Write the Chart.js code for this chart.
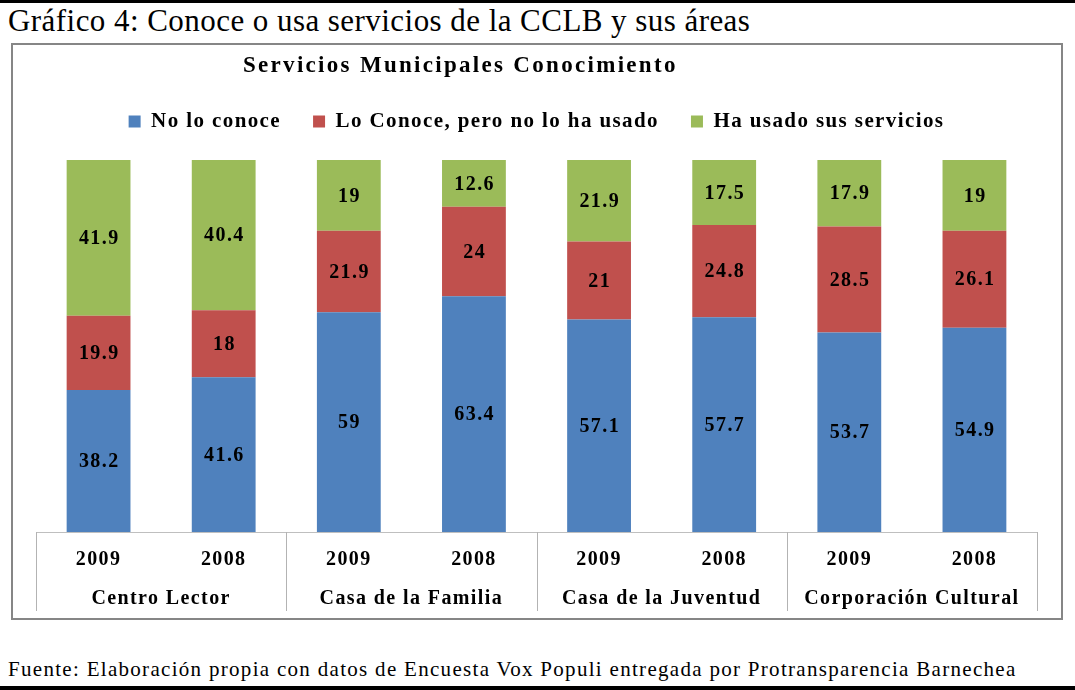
<!DOCTYPE html>
<html>
<head>
<meta charset="utf-8">
<script src="https://cdn.jsdelivr.net/npm/chart.js@4.4.0/dist/chart.umd.min.js"></script>
<style>
  html, body { margin: 0; padding: 0; background: #fff; }
  body { width: 1075px; height: 690px; position: relative; overflow: hidden; font-family: "Liberation Serif", "Times New Roman", serif; }
  .rule { position: absolute; left: 0; width: 1075px; background: #000; }
  #topRule { top: 0; height: 3px; }
  #bottomRule { top: 686px; height: 4px; }
  #pageTitle { position: absolute; left: 8px; top: 5px; font-size: 31px; line-height: 31px; letter-spacing: 0.45px; white-space: nowrap; color: #000; }
  #footer { position: absolute; left: 8px; top: 659px; font-size: 21px; line-height: 21px; letter-spacing: 1.3px; white-space: nowrap; color: #000; }
  #box { position: absolute; left: 11px; top: 43px; width: 1052px; height: 577px; box-sizing: border-box; border: 2px solid #868686; }
  #chartTitle { position: absolute; left: 243px; top: 54px; font-size: 23px; line-height: 22px; font-weight: bold; letter-spacing: 2.3px; white-space: nowrap; color: #000; }
  #c { position: absolute; left: 13px; top: 45px; }
</style>
</head>
<body>
<div class="rule" id="topRule"></div>
<div id="pageTitle">Gráfico 4: Conoce o usa servicios de la CCLB y sus áreas</div>
<div id="box"></div>
<canvas id="c" width="1048" height="573"></canvas>
<div id="chartTitle">Servicios Municipales Conocimiento</div>
<div id="footer">Fuente: Elaboración propia con datos de Encuesta Vox Populi entregada por Protransparencia Barnechea</div>
<div class="rule" id="bottomRule"></div>

<script>
// ---- Data ----
const years = ["2009", "2008", "2009", "2008", "2009", "2008", "2009", "2008"];
const groups = ["Centro Lector", "Casa de la Familia", "Casa de la Juventud", "Corporación Cultural"];
const seriesNames = ["No lo conoce", "Lo Conoce, pero no lo ha usado", "Ha usado sus servicios"];
const noLoConoce = [38.2, 41.6, 59, 63.4, 57.1, 57.7, 53.7, 54.9];
const loConoceNoUsado = [19.9, 18, 21.9, 24, 21, 24.8, 28.5, 26.1];
const haUsado = [41.9, 40.4, 19, 12.6, 21.9, 17.5, 17.9, 19];
const seriesColors = ["#4F81BD", "#C0504D", "#9BBB59"];

// 100% stacked: share of each bar's total
const rawSeries = [noLoConoce, loConoceNoUsado, haUsado];
const totals = years.map((_, i) => rawSeries.reduce((s, arr) => s + arr[i], 0));
const datasets = rawSeries.map((arr, k) => ({
  label: seriesNames[k],
  data: arr.map((v, i) => v / totals[i] * 100),
  raw: arr,
  backgroundColor: seriesColors[k],
  borderWidth: 0,
  barPercentage: 0.51,
  categoryPercentage: 1.0
}));

const FONT = "Liberation Serif";
const SPACING = "1.4px";

const spacingPlugin = {
  id: 'spacing',
  beforeUpdate(chart) { chart.ctx.letterSpacing = SPACING; },
  beforeLayout(chart) {
    chart.ctx.letterSpacing = SPACING;
    const lg = chart.legend;
    if (lg && !lg._patched) {
      const f = lg.fit;
      lg.fit = function () { f.call(this); this.height = 81; };
      lg._patched = true;
    }
  },
  beforeDraw(chart) { chart.ctx.letterSpacing = SPACING; }
};

const valueLabels = {
  id: 'valueLabels',
  afterDatasetsDraw(chart) {
    const ctx = chart.ctx;
    ctx.save();
    ctx.letterSpacing = SPACING;
    ctx.font = "bold 20px '" + FONT + "'";
    ctx.fillStyle = "#000";
    ctx.textAlign = "center";
    ctx.textBaseline = "middle";
    chart.data.datasets.forEach((ds, di) => {
      const meta = chart.getDatasetMeta(di);
      meta.data.forEach((el, i) => {
        const yc = (el.y + el.base) / 2;
        ctx.fillText(String(ds.raw[i]), el.x + 0.7, yc + 1);
      });
    });
    ctx.restore();
  }
};

const separators = {
  id: 'separators',
  afterDraw(chart) {
    const x = chart.scales.x;
    const x2 = chart.scales.x2;
    const ctx = chart.ctx;
    const xs = [x.left];
    for (let i = 1; i < years.length - 1; i += 2) {
      xs.push((x.getPixelForValue(i) + x.getPixelForValue(i + 1)) / 2);
    }
    xs.push(x.right);
    ctx.save();
    ctx.strokeStyle = "#b3b3b3";
    ctx.lineWidth = 1;
    xs.forEach(px => {
      const p = Math.round(px) + 0.5;
      ctx.beginPath();
      ctx.moveTo(p, x.top);
      ctx.lineTo(p, x2.bottom - 7);
      ctx.stroke();
    });
    ctx.restore();
  }
};

new Chart(document.getElementById('c'), {
  type: 'bar',
  data: { labels: years, datasets: datasets },
  options: {
    responsive: false,
    animation: false,
    devicePixelRatio: 1,
    layout: { padding: { left: 23, right: 24, top: 34, bottom: 0 } },
    plugins: {
      title: { display: false },
      tooltip: { enabled: false },
      legend: {
        position: 'top',
        labels: {
          boxWidth: 12,
          boxHeight: 12,
          padding: 32,
          color: "#000",
          font: { family: FONT, size: 21, weight: 'bold' }
        }
      }
    },
    scales: {
      x: {
        stacked: true,
        weight: 0,
        grid: { display: false, drawTicks: false },
        border: { display: true, color: "#bfbfbf", width: 1 },
        ticks: { color: "#000", padding: 16, font: { family: FONT, size: 20, weight: 'bold' }, maxRotation: 0, autoSkip: false },
        afterFit(scale) { scale.height = 44; }
      },
      x2: {
        type: 'category',
        labels: groups,
        position: 'bottom',
        offset: true,
        weight: 1,
        grid: { display: false, drawTicks: false },
        border: { display: false },
        ticks: { color: "#000", padding: 11, font: { family: FONT, size: 20, weight: 'bold' }, maxRotation: 0, autoSkip: false },
        afterFit(scale) { scale.height = 42; }
      },
      y: {
        stacked: true,
        display: false,
        min: 0,
        max: 100
      }
    }
  },
  plugins: [spacingPlugin, valueLabels, separators]
});
</script>
</body>
</html>
